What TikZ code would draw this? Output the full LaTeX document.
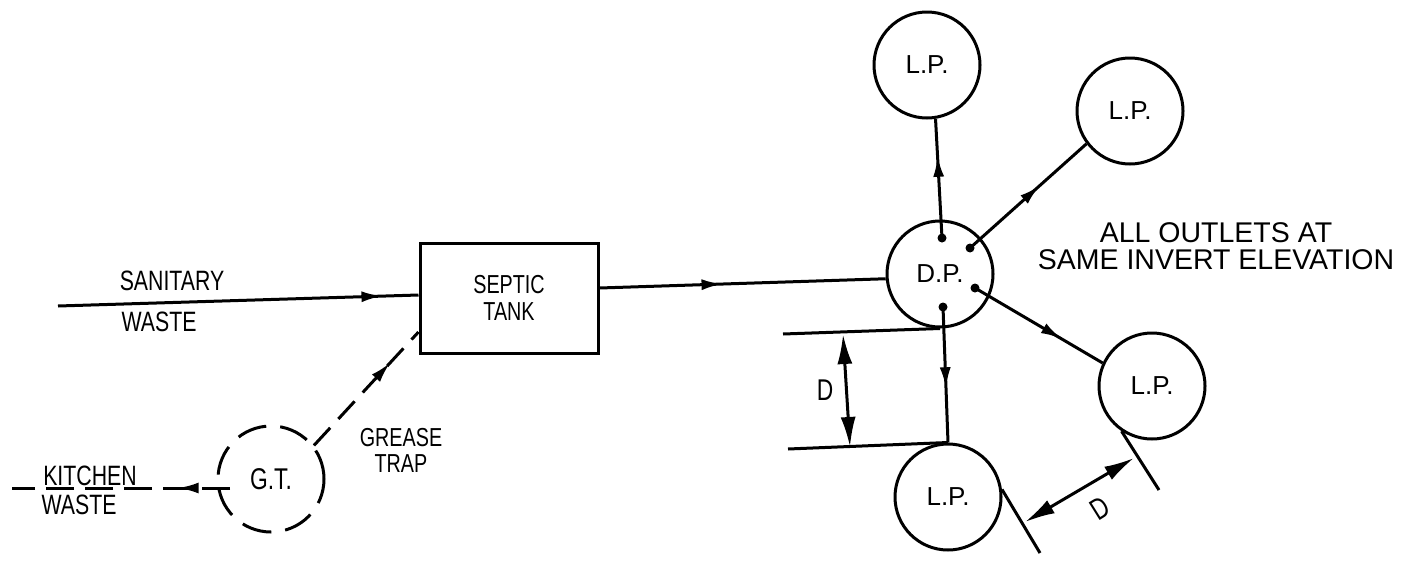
\documentclass[tikz,border=0pt]{standalone}
\usepackage{fontspec}
\setmainfont{Liberation Sans}
\newfontfamily\cond[FakeStretch=0.76]{Liberation Sans}
\usetikzlibrary{arrows.meta,decorations.markings,calc}
\begin{document}
\begin{tikzpicture}[x=1pt,y=-1pt,
  ln/.style={line width=3pt},
  pit/.style={circle, draw, line width=3pt, minimum size=106pt, inner sep=0pt, font=\fontsize{26}{26}\selectfont},
  lbl/.style={inner sep=0pt, font=\cond\fontsize{28}{25}\selectfont},
  midarrow/.style={postaction={decorate},decoration={markings,mark=at position #1 with {\arrow[solid]{Latex[length=21pt,width=11pt]}}}},
  midarrow/.default=0.5,
  dimarrow/.style={line width=3pt, {Latex[length=30pt,width=15pt]}-{Latex[length=30pt,width=15pt]}}]
\useasboundingbox (0,0) rectangle (1405,560);

% nodes
\node[pit] (lp1) at (927,65) {L.P.};
\node[pit] (lp2) at (1130,111) {L.P.};
\node[pit] (dp) at (940,274) {D.P.};
\node[pit] (lp3) at (1152,386) {L.P.};
\node[pit] (lp4) at (948,497) {L.P.};
\node[pit, dash pattern=on 30pt off 14pt, font=\cond\fontsize{30}{30}\selectfont] (gt) at (271,479) {G.T.};
\node[draw, line width=3pt, minimum width=178pt, minimum height=110pt, align=center, inner sep=0pt, font=\cond\fontsize{26}{27}\selectfont] (tank) at (509,298) {SEPTIC\\TANK};

% texts
\node[lbl] (san) at (172,281) {SANITARY};
\node[lbl] (sanw) at (159,322) {WASTE};
\node[lbl, align=center, font=\cond\fontsize{26}{26}\selectfont] (grease) at (401,450) {GREASE\\TRAP};
\node[lbl] (kit) at (90,476) {KITCHEN};
\node[lbl] (kitw) at (79,505) {WASTE};
\node[inner sep=0pt, align=center, font=\fontsize{28.5}{27}\selectfont] (note) at (1216,246) {ALL OUTLETS AT\\SAME INVERT ELEVATION};

% inflows
\coordinate (sanA) at (58,306);
\draw[ln, midarrow=0.9] (sanA) -- ([yshift=3pt]tank.west);
\draw[ln, midarrow=0.43] ([yshift=10pt]tank.east) -- (dp.185);
\draw[ln, dash pattern=on 24pt off 12pt, midarrow=0.73] (gt.38) -- ([yshift=-34pt]tank.west);
\coordinate (kitA) at (12,488);
\draw[ln, dash pattern=on 28pt off 11pt, midarrow=0.24] ($(gt)+(-41,9)$) -- (kitA);

% spokes from D.P.
\coordinate (s1) at ($(dp)+(2,-36)$);
\coordinate (s2) at ($(dp)+(30,-26)$);
\coordinate (s3) at ($(dp)+(35,14)$);
\coordinate (s4) at ($(dp)+(3,33)$);
\draw[ln, midarrow=0.69] (s1) -- (lp1.-81);
\draw[ln, midarrow=0.6] (s2) -- (lp2.217);
\draw[ln, midarrow=0.68] (s3) -- (lp3.155);
\draw[ln, midarrow=0.6] (s4) -- (lp4.north);
\foreach \p in {s1,s2,s3,s4} \fill (\p) circle[radius=4.5pt];

% vertical dimension
\coordinate (h1) at (783,334);
\coordinate (h2) at (788,449);
\draw[ln] (h1) -- (dp.south);
\draw[ln] (h2) -- (lp4.north);
\coordinate (d1) at (843,334);
\coordinate (d2) at (850,447);
\draw[dimarrow] (d1) -- (d2);
\node[lbl, font=\cond\fontsize{30}{30}\selectfont] (dlab1) at (825,390) {D};

% oblique dimension
\coordinate (t3) at (1159,490);
\coordinate (t4) at (1040,553);
\draw[ln] (lp3.236) -- (t3);
\draw[ln] (lp4.8) -- (t4);
\coordinate (d3) at (1025,522);
\coordinate (d4) at (1134,458);
\draw[dimarrow] (d3) -- (d4);
\node[lbl, rotate=32, font=\cond\fontsize{30}{30}\selectfont] (dlab2) at (1100,508) {D};
\end{tikzpicture}
\end{document}
